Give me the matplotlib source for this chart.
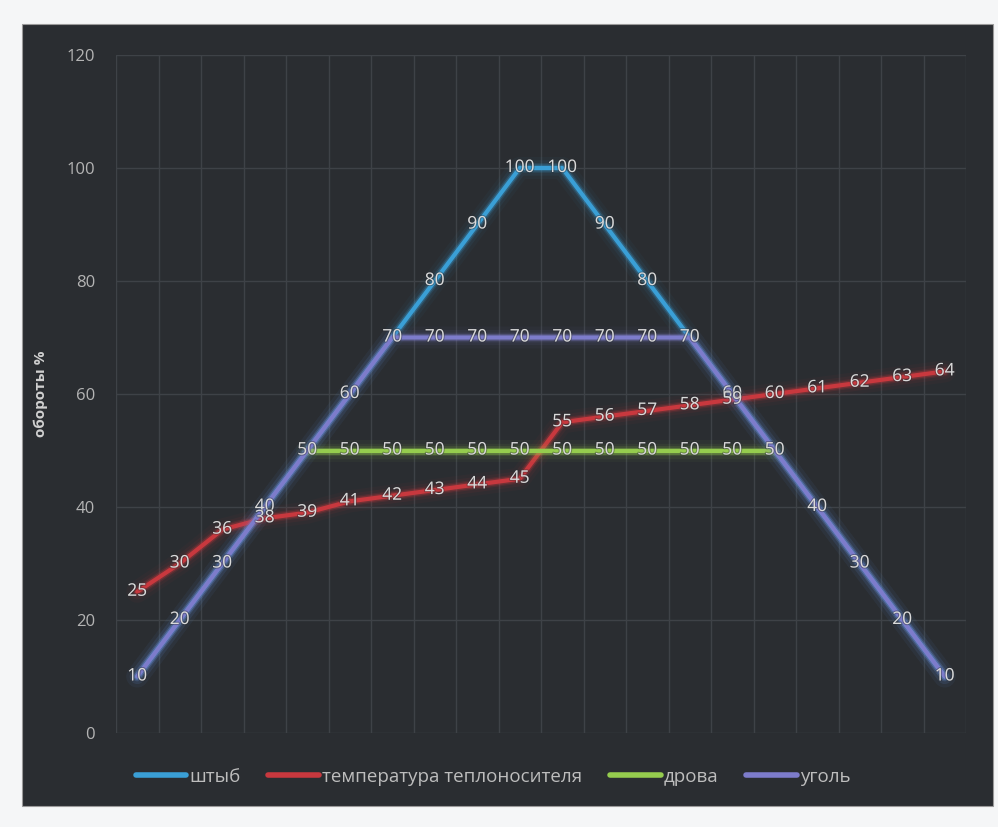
import numpy as np
import matplotlib
matplotlib.use("Agg")
import matplotlib.pyplot as plt
from matplotlib.patches import Rectangle
import matplotlib.patheffects as pe

plt.rcParams['font.family'] = ['Open Sans', 'DejaVu Sans']

# данные по точкам (20 шагов)
shtyb = [10, 20, 30, 40, 50, 60, 70, 80, 90, 100, 100, 90, 80, 70, 60, 50, 40, 30, 20, 10]
temp = [25, 30, 36, 38, 39, 41, 42, 43, 44, 45, 55, 56, 57, 58, 59, 60, 61, 62, 63, 64]
drova = [None, None, None, None, 50, 50, 50, 50, 50, 50, 50, 50, 50, 50, 50, 50, None, None, None, None]
ugol = [10, 20, 30, 40, 50, 60, 70, 70, 70, 70, 70, 70, 70, 70, 60, 50, 40, 30, 20, 10]

series = [
    ('штыб', shtyb, '#3a9fd6'),
    ('температура теплоносителя', temp, '#c8383e'),
    ('дрова', drova, '#95cc4e'),
    ('уголь', ugol, '#7d7ccb'),
]

bg = '#2a2d31'
fig = plt.figure(figsize=(9.98, 8.27), dpi=100, facecolor='#f5f6f7')
fig.patches.append(Rectangle((22 / 998, 1 - 806 / 827), 971 / 998, 782 / 827,
                             transform=fig.transFigure, facecolor=bg,
                             edgecolor='#9a9a9a', lw=0.8, zorder=-5))

ax = fig.add_axes([116 / 998, 1 - 733 / 827, 850 / 998, 678 / 827])
ax.set_zorder(2)
ax.patch.set_alpha(0)

x = np.arange(len(temp))
ax.set_xlim(-0.5, len(temp) - 0.5)
ax.set_ylim(0, 120)
ax.set_yticks(range(0, 121, 20))
ax.set_xticks(np.arange(-0.5, len(temp), 1.0))
ax.set_xticklabels([])
ax.tick_params(length=0, colors='#b4b4b4', labelsize=12, pad=15)
ax.grid(True, color='#3e4247', lw=1)
for s in ax.spines.values():
    s.set_visible(False)

lines = []
drawn = set()
for i, (name, vals, col) in enumerate(series):
    y = np.array([np.nan if v is None else v for v in vals], dtype=float)
    z = 3 + i
    # свечение вокруг линии
    for w, a in [(16, 0.04), (11, 0.07), (7, 0.14), (5, 0.3)]:
        ax.plot(x, y, color=col, lw=w, alpha=a, solid_capstyle='round', zorder=z)
    ln, = ax.plot(x, y, color=col, lw=3, label=name, solid_capstyle='round', zorder=z)
    lines.append(ln)
    for xi, v in zip(x, vals):
        if v is None or (xi, v) in drawn:
            continue
        drawn.add((xi, v))
        ax.text(xi, v, str(v), ha='center', va='center', fontsize=12.5,
                color='#dadada', zorder=10,
                path_effects=[pe.withStroke(linewidth=1.5, foreground=bg, alpha=0.4)])

ax.set_ylabel('обороты %', fontsize=11, fontweight='bold', color='#d0d0d0')
ax.yaxis.set_label_coords(-0.08, 0.5)

leg = fig.legend(handles=lines, loc='center', ncol=4, bbox_to_anchor=(493 / 998, 1 - 777 / 827),
                 frameon=False, fontsize=13.5, handlelength=2.7, columnspacing=1.5,
                 handletextpad=0.15)
for t in leg.get_texts():
    t.set_color('#bdbdbd')
for h in leg.legend_handles:
    h.set_linewidth(4)

fig.savefig('out.png', dpi=100, facecolor=fig.get_facecolor())
